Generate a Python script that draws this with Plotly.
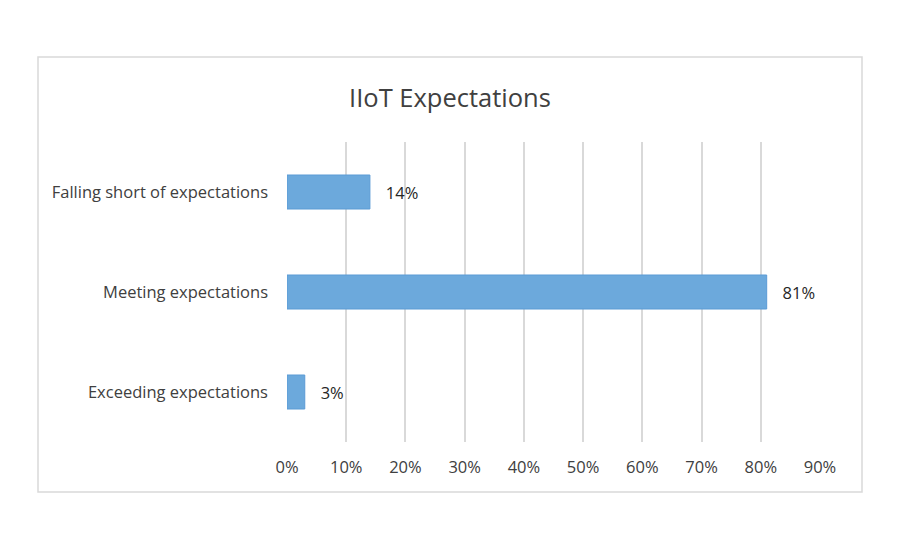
import plotly.graph_objects as go

categories = ["Exceeding expectations", "Meeting expectations", "Falling short of expectations"]
values = [3, 81, 14]
labels = ["3%", "81%", "14%"]
tick_vals = [0, 10, 20, 30, 40, 50, 60, 70, 80, 90]
tick_text = ["0%", "10%", "20%", "30%", "40%", "50%", "60%", "70%", "80%", "90%"]

fig = go.Figure(go.Bar(
    y=categories, x=values, orientation="h",
    text=["\u00a0\u00a0\u00a0" + t for t in labels], textposition="outside", cliponaxis=False,
    constraintext="none",
    textfont=dict(size=16.5, color="#262626"),
    marker=dict(color="#6CA9DC", line=dict(color="#5B9BD5", width=1)),
    width=0.34,
))

L, R, T, B = 287, 820, 142, 442
W, H = R - L, B - T
fig.update_layout(
    width=900, height=550,
    margin=dict(l=L, r=900 - R, t=T, b=550 - B),
    paper_bgcolor="white", plot_bgcolor="white",
    font=dict(family="Open Sans", size=16.5, color="#404040"),
    title=dict(text="IIoT Expectations", x=0.5, xanchor="center", y=1 - 98 / 550, yanchor="middle",
               font=dict(size=25.5, color="#404040")),
    showlegend=False,
    xaxis=dict(range=[0, 90], tickvals=tick_vals, ticktext=tick_text, showgrid=True,
               gridcolor="#D9D9D9", gridwidth=1.5, zeroline=False, showline=False,
               ticks="", ticklabelstandoff=13, fixedrange=True),
    yaxis=dict(showgrid=False, zeroline=False, showline=False, ticks="",
               ticklabelstandoff=18, range=[-0.5, 2.5]),
    shapes=[dict(type="rect", xref="paper", yref="paper",
                 x0=(38 - L) / W, x1=(862 - L) / W,
                 y0=(B - 492) / H, y1=(B - 57) / H,
                 line=dict(color="#D9D9D9", width=1.5), fillcolor="rgba(0,0,0,0)", layer="below")],
)
fig.write_html("out.html")
